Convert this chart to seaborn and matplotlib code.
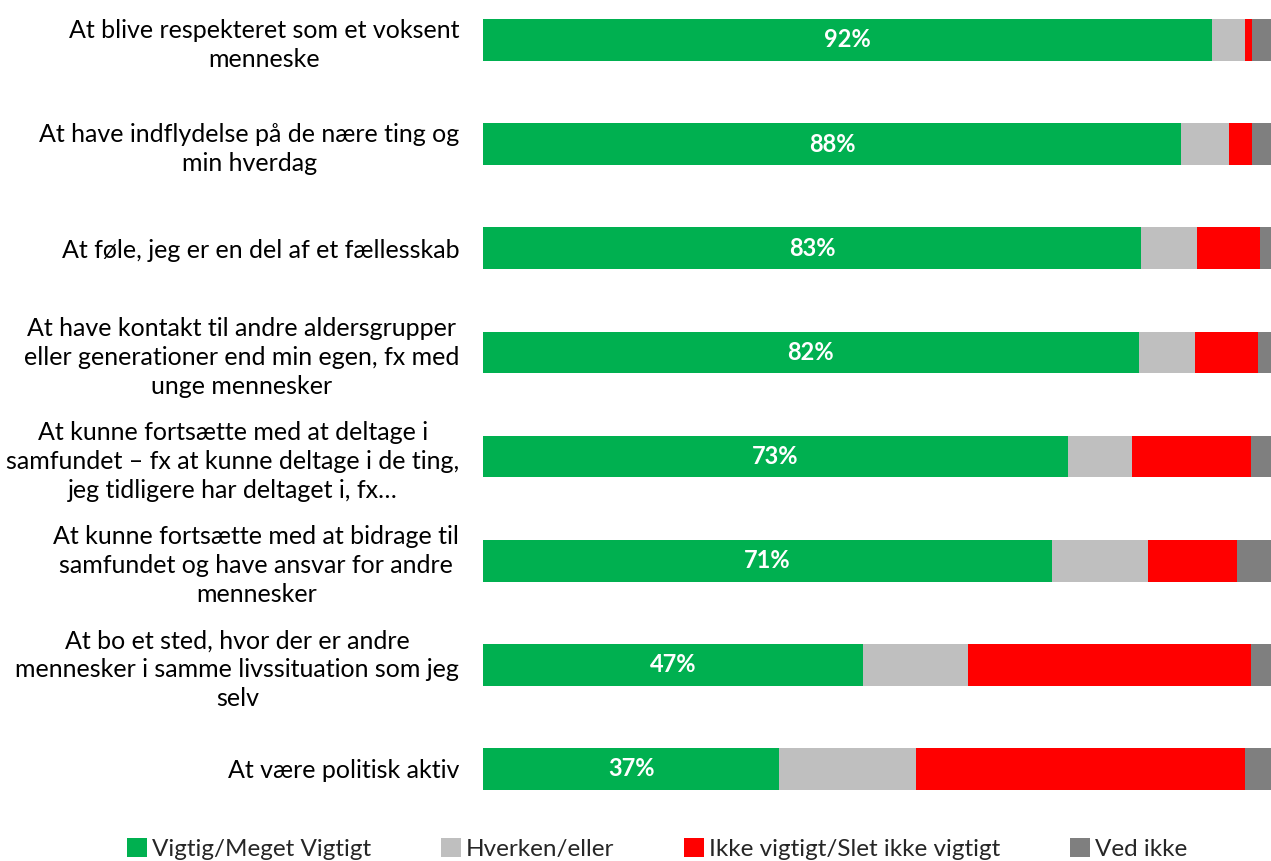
import pandas as pd
import matplotlib
matplotlib.use("Agg")
import matplotlib.pyplot as plt
import seaborn as sns
from matplotlib.patches import Patch

categories = [
    "At blive respekteret som et voksent\nmenneske",
    "At have indflydelse på de nære ting og\nmin hverdag",
    "At føle, jeg er en del af et fællesskab",
    "At have kontakt til andre aldersgrupper\neller generationer end min egen, fx med\nunge mennesker",
    "At kunne fortsætte med at deltage i\nsamfundet – fx at kunne deltage i de ting,\njeg tidligere har deltaget i, fx…",
    "At kunne fortsætte med at bidrage til\nsamfundet og have ansvar for andre\nmennesker",
    "At bo et sted, hvor der er andre\nmennesker i samme livssituation som jeg\nselv",
    "At være politisk aktiv",
]
vigtig = [92.5, 88.6, 83.5, 83.2, 74.2, 72.2, 48.2, 37.6]
hverken = [4.2, 6.1, 7.1, 7.2, 8.1, 12.2, 13.3, 17.3]
ikke_vigtig = [0.9, 2.9, 8.0, 8.0, 15.2, 11.3, 35.9, 41.8]
ved_ikke = [2.4, 2.4, 1.4, 1.6, 2.5, 4.3, 2.6, 3.3]
green_labels = ["92%", "88%", "83%", "82%", "73%", "71%", "47%", "37%"]

series_names = ["Vigtig/Meget Vigtigt", "Hverken/eller", "Ikke vigtigt/Slet ikke vigtigt", "Ved ikke"]
colors = ["#00b050", "#bfbfbf", "#ff0000", "#7f7f7f"]

df = pd.DataFrame({"cat": categories, "v": vigtig, "h": hverken, "i": ikke_vigtig, "d": ved_ikke})
df["c1"] = df["v"]
df["c2"] = df["c1"] + df["h"]
df["c3"] = df["c2"] + df["i"]
df["c4"] = df["c3"] + df["d"]

sns.set_style("white")
plt.rcParams["font.family"] = ["Lato", "DejaVu Sans"]

fig = plt.figure(figsize=(12.71, 8.61), dpi=100)
ax = fig.add_axes([0.38, 1 - 820 / 861, 0.62, 820 / 861])

# stacked bars drawn back to front as cumulative totals
for col, color in zip(["c4", "c3", "c2", "c1"], colors[::-1]):
    sns.barplot(data=df, y="cat", x=col, color=color, width=0.4, orient="h",
                ax=ax, saturation=1, edgecolor="none")

for i, lab in enumerate(green_labels):
    ax.text(df["v"][i] / 2, i, lab, ha="center", va="center", color="white",
            fontsize=17, fontweight="bold")

ax.set_xlim(0, df["c4"].max())
ax.set_ylim(7.49, -0.384)
ax.set_xlabel("")
ax.set_ylabel("")
ax.set_xticks([])
ax.tick_params(axis="y", length=0, pad=17)
ax.set_yticks(range(len(categories)))
ax.set_yticklabels(categories, fontsize=18, multialignment="center", color="#000000",
                   linespacing=1.32)
sns.despine(ax=ax, left=True, bottom=True)

handles = [Patch(facecolor=c, edgecolor="none") for c in colors]
fig.legend(handles, series_names, loc="center", bbox_to_anchor=(0.517, 1 - 849 / 861),
           ncol=4, frameon=False, fontsize=17.5, handlelength=0.8, handleheight=0.8,
           handletextpad=0.2, columnspacing=2.9)

fig.savefig("out.png", dpi=100)
